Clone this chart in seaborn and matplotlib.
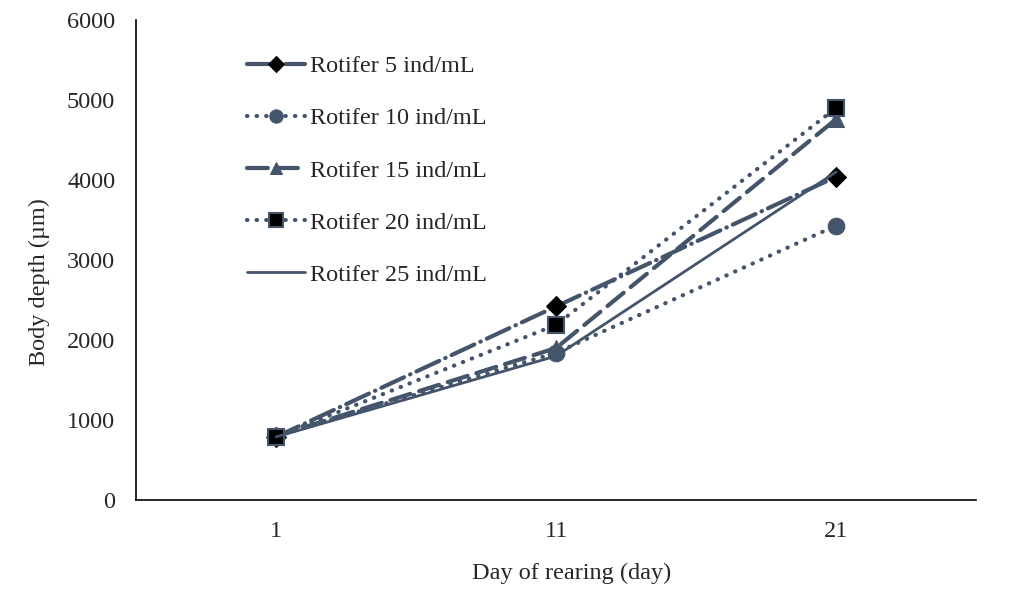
import numpy as np
import seaborn as sns
import pandas as pd
import matplotlib.pyplot as plt

# data
days = ['1', '11', '21']
rot5 = [790, 2420, 4040]
rot10 = [800, 1840, 3430]
rot15 = [800, 1900, 4760]
rot20 = [790, 2190, 4900]
rot25 = [790, 1800, 4100]
labels = ['Rotifer 5 ind/mL', 'Rotifer 10 ind/mL', 'Rotifer 15 ind/mL',
          'Rotifer 20 ind/mL', 'Rotifer 25 ind/mL']

sns.set_style('white')
plt.rcParams['font.family'] = ['Liberation Serif', 'DejaVu Serif']

c = '#44546A'
styles = [
    dict(linestyle=(0, (6, 1.6, 0.1, 1.6)), lw=3, marker='D', ms=10, mfc='black', mec='black', dash_capstyle='round'),
    dict(linestyle=(0, (0.1, 2.2)), lw=3, marker='o', ms=12, mfc=c, mec=c, dash_capstyle='round'),
    dict(linestyle=(0, (5, 2.2)), lw=3, marker='^', ms=11, mfc=c, mec=c, dash_capstyle='round'),
    dict(linestyle=(0, (0.1, 2.2)), lw=3, marker='s', ms=12, mfc='black', mec=c, mew=1.5, dash_capstyle='round'),
    dict(linestyle='-', lw=2, marker=None),
]

series = [rot5, rot10, rot15, rot20, rot25]

fig = plt.figure(figsize=(10.11, 6.04), dpi=100)
ax = fig.add_axes([0.1345, 0.172, 0.831, 0.795])

for lab, vals, st in zip(labels, series, styles):
    df = pd.DataFrame({'day': days, 'val': vals})
    sns.lineplot(data=df, x='day', y='val', ax=ax, color=c, label=lab, **st)

ax.set_xlim(-0.5, 2.5)
ax.set_ylim(0, 6000)
ax.set_yticks(np.arange(0, 6001, 1000))
ax.tick_params(labelsize=17.5, length=0, pad=15)
ax.set_xlabel('Day of rearing (day)', fontsize=17.5)
ax.set_ylabel('Body depth (µm)', fontsize=17.5)
ax.xaxis.set_label_coords(0.518, -0.13)
ax.yaxis.set_label_coords(-0.102, 0.454)
for s in ['top', 'right']:
    ax.spines[s].set_visible(False)
for s in ['left', 'bottom']:
    ax.spines[s].set_color('black')
    ax.spines[s].set_linewidth(1.2)

ax.legend(loc='upper left', bbox_to_anchor=(0.106, 0.972), frameon=False,
          fontsize=17.5, handlelength=2.4, labelspacing=1.24, handletextpad=0.2,
          markerscale=0.8)

fig.savefig('out.png', dpi=100)
